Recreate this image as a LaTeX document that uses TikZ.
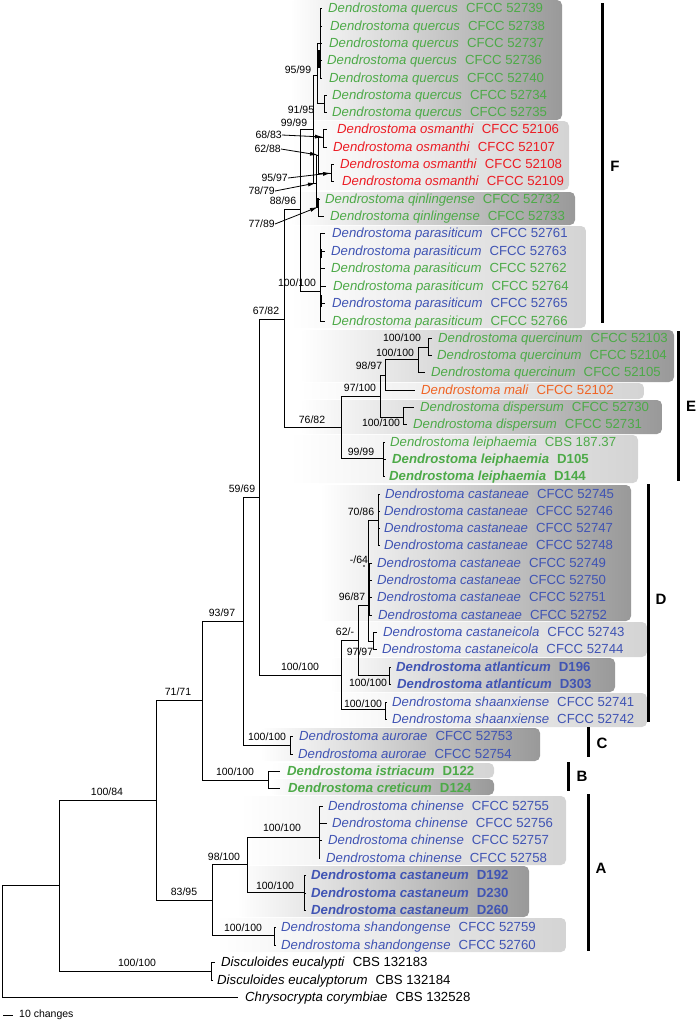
\documentclass[tikz,border=0pt]{standalone}
\usepackage{fontspec}
\setmainfont{Liberation Sans}
\usepackage{xcolor}
\usetikzlibrary{arrows.meta, positioning}

\definecolor{tgreen}{RGB}{77,170,72}
\definecolor{tblue}{RGB}{64,84,180}
\definecolor{tred}{RGB}{236,28,36}
\definecolor{torange}{RGB}{240,100,36}

\tikzset{
  branch/.style={line width=0.9pt},
  polytomy/.style={line width=2pt},
  leaf/.style={anchor=west, inner sep=0pt, text height=9.5pt, text depth=0pt, font=\fontsize{13.2}{15}\selectfont},
  bs/.style={inner sep=0pt, font=\fontsize{10.5}{12}\selectfont},
  darkbox/.style={rounded corners=5pt, left color=white, right color=black!40},
  lightbox/.style={rounded corners=5pt, left color=white, right color=black!17},
  cladebar/.style={line width=3pt},
  cladename/.style={inner sep=0pt, font=\fontsize{15}{17}\selectfont\bfseries},
  pointer/.style={line width=0.8pt, -{Latex[length=8pt,width=4pt]}},
}
\newcommand{\taxon}[2]{\textit{#1}\hspace{8pt}#2}
\newcommand{\taxonbf}[2]{\textbf{\textit{#1}}\hspace{8pt}\textbf{#2}}

\begin{document}
\begin{tikzpicture}[x=1pt, y=-1pt]
  \useasboundingbox (0,0) rectangle (697,1023);

  % shaded groups
  \shade[darkbox]  (290,0)   rectangle (562,120);
  \shade[lightbox] (290,121) rectangle (569,190);
  \shade[darkbox]  (290,192) rectangle (575,225);
  \shade[lightbox] (290,226) rectangle (586,328);
  \shade[darkbox]  (300,330) rectangle (674,382);
  \shade[lightbox] (300,383) rectangle (644,399);
  \shade[darkbox]  (300,400) rectangle (662,434);
  \shade[lightbox] (290,435) rectangle (638,483);
  \shade[darkbox]  (320,485) rectangle (631,621);
  \shade[lightbox] (330,622) rectangle (647,657);
  \shade[darkbox]  (330,658) rectangle (615,692);
  \shade[lightbox] (330,693) rectangle (647,727);
  \shade[darkbox]  (260,728) rectangle (540,761);
  \shade[lightbox] (270,763) rectangle (494,778);
  \shade[darkbox]  (270,779) rectangle (494,795);
  \shade[lightbox] (240,796) rectangle (566,865);
  \shade[darkbox]  (237,866) rectangle (529,917);
  \shade[lightbox] (215,918) rectangle (566,952);

  % internal nodes
  \coordinate (root) at (2,940);
  \coordinate (k0) at (59,885);
  \coordinate (k100) at (156,800);
  \coordinate (dis) at (211,971);
  \coordinate (k71) at (202,700);
  \coordinate (kA) at (212,900);
  \coordinate (kA98) at (247,864);
  \coordinate (chi) at (319,837);
  \coordinate (cas) at (304,892);
  \coordinate (sha) at (274,935);
  \coordinate (kB) at (268,780);
  \coordinate (k93) at (243,621);
  \coordinate (kC) at (290,745);
  \coordinate (k59) at (259,497);
  \coordinate (kD) at (341,675);
  \coordinate (shx) at (385,709);
  \coordinate (k62) at (358,640);
  \coordinate (atl) at (389,675);
  \coordinate (k96) at (368,605);
  \coordinate (k70) at (378,520);
  \coordinate (cci) at (373,641);
  \coordinate (k67) at (284,319);
  \coordinate (kE) at (341,427);
  \coordinate (lei) at (383,458);
  \coordinate (k97) at (380,396);
  \coordinate (dsp) at (403,417);
  \coordinate (k98) at (385,375);
  \coordinate (kq) at (418,359);
  \coordinate (qcn) at (428,347);
  \coordinate (k88) at (300,209);
  \coordinate (par) at (320,291);
  \coordinate (k99) at (313,129);
  \coordinate (qrc) at (317,75);
  \coordinate (qpl) at (320,43);
  \coordinate (qpr) at (324,103);
  \coordinate (k78) at (316,183);
  \coordinate (osm) at (318,155);
  \coordinate (o68) at (323,137);
  \coordinate (o95) at (331,173);
  \coordinate (qin) at (318,207);

  % tips
  \coordinate (q1) at (322,8);   \coordinate (q2) at (322,26);  \coordinate (q3) at (322,43);
  \coordinate (q4) at (322,60);  \coordinate (q5) at (322,78);  \coordinate (q6) at (327,95);
  \coordinate (q7) at (327,112);
  \coordinate (o1) at (327,129); \coordinate (o2) at (327,147);
  \coordinate (o3) at (334,164); \coordinate (o4) at (334,181);
  \coordinate (n1) at (320,199); \coordinate (n2) at (324,216);
  \coordinate (p1) at (325,233); \coordinate (p2) at (325,251); \coordinate (p3) at (325,268);
  \coordinate (p4) at (326,286); \coordinate (p5) at (325,303); \coordinate (p6) at (325,321);
  \coordinate (r1) at (432,338); \coordinate (r2) at (432,355); \coordinate (r3) at (425,372);
  \coordinate (mal) at (415,390);
  \coordinate (d1) at (414,407); \coordinate (d2) at (407,424);
  \coordinate (l1) at (385,442); \coordinate (l2) at (386,459); \coordinate (l3) at (385,476);
  \coordinate (c1) at (380,494); \coordinate (c2) at (380,511); \coordinate (c3) at (380,528);
  \coordinate (c4) at (380,545); \coordinate (c5) at (372,563); \coordinate (c6) at (372,580);
  \coordinate (c7) at (372,597); \coordinate (c8) at (372,615);
  \coordinate (e1) at (377,632); \coordinate (e2) at (377,649);
  \coordinate (a1) at (391,667); \coordinate (a2) at (391,684);
  \coordinate (s1) at (387,702); \coordinate (s2) at (387,719);
  \coordinate (u1) at (293,736); \coordinate (u2) at (293,754);
  \coordinate (ist) at (280,771); \coordinate (cre) at (280,788);
  \coordinate (h1) at (323,806); \coordinate (h2) at (327,823);
  \coordinate (h3) at (322,840); \coordinate (h4) at (320,858);
  \coordinate (m1) at (306,875); \coordinate (m2) at (306,893); \coordinate (m3) at (306,910);
  \coordinate (g1) at (276,927); \coordinate (g2) at (276,945);
  \coordinate (de1) at (215,962); \coordinate (de2) at (213,980);
  \coordinate (chr) at (238,997);

  % branches
  \foreach \p/\c in {root/k0, root/chr, k0/k100, k0/dis, dis/de1, dis/de2,
      k100/k71, k100/kA, kA/kA98, kA/sha, kA98/chi, kA98/cas,
      chi/h1, chi/h2, chi/h3, chi/h4, cas/m1, cas/m2, cas/m3, sha/g1, sha/g2,
      k71/k93, k71/kB, kB/ist, kB/cre, k93/k59, k93/kC, kC/u1, kC/u2,
      k59/k67, k59/kD, kD/k62, kD/shx, shx/s1, shx/s2,
      k62/k96, k62/atl, atl/a1, atl/a2,
      k96/k70, k96/c5, k96/c6, k96/c7, k96/c8, k96/cci,
      k70/c1, k70/c2, k70/c3, k70/c4, cci/e1, cci/e2,
      k67/k88, k67/kE, kE/k97, kE/lei, lei/l1, lei/l2, lei/l3,
      k97/k98, k97/dsp, dsp/d1, dsp/d2, k98/kq, k98/mal,
      kq/qcn, kq/r3, qcn/r1, qcn/r2,
      k88/k99, k88/par, par/p1, par/p2, par/p3, par/p4, par/p5, par/p6,
      k99/qrc, k99/k78, qrc/qpl, qrc/qpr,
      qpl/q1, qpl/q2, qpl/q3, qpl/q4, qpl/q5, qpr/q6, qpr/q7,
      k78/osm, k78/qin, osm/o68, osm/o95, o68/o1, o68/o2, o95/o3, o95/o4,
      qin/n1, qin/n2}
    \draw[branch] (\p) |- (\c);

  \draw[polytomy] (319,50) -- (319,68);
  \draw[polytomy] (318,198) -- (318,208);
  \draw[polytomy] (321,249) -- (321,258);
  \draw[polytomy] (321,295) -- (321,307);
  \draw[polytomy] (369,563) -- (369,615);
  \fill (364,566) circle (0.9pt);

  % leaves
  \node[leaf, text=tgreen] (tq1) at (328,8)   {\taxon{Dendrostoma quercus}{CFCC 52739}};
  \node[leaf, text=tgreen] (tq2) at (330,26)  {\taxon{Dendrostoma quercus}{CFCC 52738}};
  \node[leaf, text=tgreen] (tq3) at (329,43)  {\taxon{Dendrostoma quercus}{CFCC 52737}};
  \node[leaf, text=tgreen] (tq4) at (327,60)  {\taxon{Dendrostoma quercus}{CFCC 52736}};
  \node[leaf, text=tgreen] (tq5) at (329,78)  {\taxon{Dendrostoma quercus}{CFCC 52740}};
  \node[leaf, text=tgreen] (tq6) at (332,95)  {\taxon{Dendrostoma quercus}{CFCC 52734}};
  \node[leaf, text=tgreen] (tq7) at (332,112) {\taxon{Dendrostoma quercus}{CFCC 52735}};
  \node[leaf, text=tred] (to1) at (337,129) {\taxon{Dendrostoma osmanthi}{CFCC 52106}};
  \node[leaf, text=tred] (to2) at (333,147) {\taxon{Dendrostoma osmanthi}{CFCC 52107}};
  \node[leaf, text=tred] (to3) at (340,164) {\taxon{Dendrostoma osmanthi}{CFCC 52108}};
  \node[leaf, text=tred] (to4) at (342,181) {\taxon{Dendrostoma osmanthi}{CFCC 52109}};
  \node[leaf, text=tgreen] (tn1) at (325,199) {\taxon{Dendrostoma qinlingense}{CFCC 52732}};
  \node[leaf, text=tgreen] (tn2) at (330,216) {\taxon{Dendrostoma qinlingense}{CFCC 52733}};
  \node[leaf, text=tblue]  (tp1) at (332,233) {\taxon{Dendrostoma parasiticum}{CFCC 52761}};
  \node[leaf, text=tblue]  (tp2) at (331,251) {\taxon{Dendrostoma parasiticum}{CFCC 52763}};
  \node[leaf, text=tgreen] (tp3) at (331,268) {\taxon{Dendrostoma parasiticum}{CFCC 52762}};
  \node[leaf, text=tgreen] (tp4) at (333,286) {\taxon{Dendrostoma parasiticum}{CFCC 52764}};
  \node[leaf, text=tblue]  (tp5) at (332,303) {\taxon{Dendrostoma parasiticum}{CFCC 52765}};
  \node[leaf, text=tgreen] (tp6) at (332,321) {\taxon{Dendrostoma parasiticum}{CFCC 52766}};
  \node[leaf, text=tgreen] (tr1) at (438,338) {\taxon{Dendrostoma quercinum}{CFCC 52103}};
  \node[leaf, text=tgreen] (tr2) at (437,355) {\taxon{Dendrostoma quercinum}{CFCC 52104}};
  \node[leaf, text=tgreen] (tr3) at (431,372) {\taxon{Dendrostoma quercinum}{CFCC 52105}};
  \node[leaf, text=torange] (tmal) at (421,390) {\taxon{Dendrostoma mali}{CFCC 52102}};
  \node[leaf, text=tgreen] (td1) at (420,407) {\taxon{Dendrostoma dispersum}{CFCC 52730}};
  \node[leaf, text=tgreen] (td2) at (413,424) {\taxon{Dendrostoma dispersum}{CFCC 52731}};
  \node[leaf, text=tgreen] (tl1) at (390,442) {\taxon{Dendrostoma leiphaemia}{CBS 187.37}};
  \node[leaf, text=tgreen] (tl2) at (392,459) {\taxonbf{Dendrostoma leiphaemia}{D105}};
  \node[leaf, text=tgreen] (tl3) at (389,476) {\taxonbf{Dendrostoma leiphaemia}{D144}};
  \node[leaf, text=tblue] (tc1) at (385,494) {\taxon{Dendrostoma castaneae}{CFCC 52745}};
  \node[leaf, text=tblue] (tc2) at (384,511) {\taxon{Dendrostoma castaneae}{CFCC 52746}};
  \node[leaf, text=tblue] (tc3) at (384,528) {\taxon{Dendrostoma castaneae}{CFCC 52747}};
  \node[leaf, text=tblue] (tc4) at (384,545) {\taxon{Dendrostoma castaneae}{CFCC 52748}};
  \node[leaf, text=tblue] (tc5) at (377,563) {\taxon{Dendrostoma castaneae}{CFCC 52749}};
  \node[leaf, text=tblue] (tc6) at (377,580) {\taxon{Dendrostoma castaneae}{CFCC 52750}};
  \node[leaf, text=tblue] (tc7) at (377,597) {\taxon{Dendrostoma castaneae}{CFCC 52751}};
  \node[leaf, text=tblue] (tc8) at (378,615) {\taxon{Dendrostoma castaneae}{CFCC 52752}};
  \node[leaf, text=tblue] (te1) at (383,632) {\taxon{Dendrostoma castaneicola}{CFCC 52743}};
  \node[leaf, text=tblue] (te2) at (382,649) {\taxon{Dendrostoma castaneicola}{CFCC 52744}};
  \node[leaf, text=tblue] (ta1) at (396,667) {\taxonbf{Dendrostoma atlanticum}{D196}};
  \node[leaf, text=tblue] (ta2) at (397,684) {\taxonbf{Dendrostoma atlanticum}{D303}};
  \node[leaf, text=tblue] (ts1) at (392,702) {\taxon{Dendrostoma shaanxiense}{CFCC 52741}};
  \node[leaf, text=tblue] (ts2) at (392,719) {\taxon{Dendrostoma shaanxiense}{CFCC 52742}};
  \node[leaf, text=tblue] (tu1) at (299,736) {\taxon{Dendrostoma aurorae}{CFCC 52753}};
  \node[leaf, text=tblue] (tu2) at (298,754) {\taxon{Dendrostoma aurorae}{CFCC 52754}};
  \node[leaf, text=tgreen] (tist) at (287,771) {\taxonbf{Dendrostoma istriacum}{D122}};
  \node[leaf, text=tgreen] (tcre) at (288,788) {\taxonbf{Dendrostoma creticum}{D124}};
  \node[leaf, text=tblue] (th1) at (328,806) {\taxon{Dendrostoma chinense}{CFCC 52755}};
  \node[leaf, text=tblue] (th2) at (332,823) {\taxon{Dendrostoma chinense}{CFCC 52756}};
  \node[leaf, text=tblue] (th3) at (328,840) {\taxon{Dendrostoma chinense}{CFCC 52757}};
  \node[leaf, text=tblue] (th4) at (326,858) {\taxon{Dendrostoma chinense}{CFCC 52758}};
  \node[leaf, text=tblue] (tm1) at (311,875) {\taxonbf{Dendrostoma castaneum}{D192}};
  \node[leaf, text=tblue] (tm2) at (311,893) {\taxonbf{Dendrostoma castaneum}{D230}};
  \node[leaf, text=tblue] (tm3) at (311,910) {\taxonbf{Dendrostoma castaneum}{D260}};
  \node[leaf, text=tblue] (tg1) at (281,927) {\taxon{Dendrostoma shandongense}{CFCC 52759}};
  \node[leaf, text=tblue] (tg2) at (281,945) {\taxon{Dendrostoma shandongense}{CFCC 52760}};
  \node[leaf] (tde1) at (221,962) {\taxon{Disculoides eucalypti}{CBS 132183}};
  \node[leaf] (tde2) at (217,980) {\taxon{Disculoides eucalyptorum}{CBS 132184}};
  \node[leaf] (tchr) at (245,997) {\taxon{Chrysocrypta corymbiae}{CBS 132528}};

  % support values
  \node[bs] (b10084) at (107,792) {100/84};
  \node[bs] (bdis) at (137,963) {100/100};
  \node[bs] (b7171) at (178,692) {71/71};
  \node[bs] (b8395) at (184,892) {83/95};
  \node[bs] (b98100) at (224,857) {98/100};
  \node[bs] (bchi) at (282,828) {100/100};
  \node[bs] (bcas) at (275,886) {100/100};
  \node[bs] (bsha) at (243,928) {100/100};
  \node[bs] (bB) at (235,772) {100/100};
  \node[bs] (b9397) at (222,613) {93/97};
  \node[bs] (bC) at (267,737) {100/100};
  \node[bs] (b5969) at (242,489) {59/69};
  \node[bs] (bD) at (300,667) {100/100};
  \node[bs] (bshx) at (363,704) {100/100};
  \node[bs] (b62) at (345,632) {62/-};
  \node[bs] (batl) at (368,683) {100/100};
  \node[bs] (b9687) at (352,597) {96/87};
  \node[bs] (b64) at (359,560) {-/64};
  \node[bs] (b7086) at (361,512) {70/86};
  \node[bs] (b9797) at (360,652) {97/97};
  \node[bs] (b6782) at (266,311) {67/82};
  \node[bs] (b7682) at (312,420) {76/82};
  \node[bs] (blei) at (361,452) {99/99};
  \node[bs] (b97100) at (360,388) {97/100};
  \node[bs] (bdsp) at (381,423) {100/100};
  \node[bs] (b9897) at (369,366) {98/97};
  \node[bs] (bkq) at (395,353) {100/100};
  \node[bs] (bqcn) at (402,338) {100/100};
  \node[bs] (b8896) at (283,201) {88/96};
  \node[bs] (bpar) at (297,283) {100/100};
  \node[bs] (b9999) at (294,123) {99/99};
  \node[bs] (b9599) at (298,70) {95/99};
  \node[bs] (b9195) at (301,110) {91/95};
  \node[bs, anchor=east] (b6883) at (282,135) {68/83};
  \node[bs, anchor=east] (b6288) at (281,149) {62/88};
  \node[bs, anchor=east] (b9597) at (288,178) {95/97};
  \node[bs, anchor=east] (b7879) at (275,191) {78/79};
  \node[bs, anchor=east] (b7789) at (275,224) {77/89};

  \draw[pointer] (b6883.east) -- (o68);
  \draw[pointer] (b6288.east) -- (osm);
  \draw[pointer] (b9597.east) -- (o95);
  \draw[pointer] (b7879.east) -- (k78);
  \draw[pointer] (b7789.east) -- (qin);

  % clades
  \coordinate (Ft) at (602,3);   \coordinate (Fb) at (602,323);
  \coordinate (Et) at (678,331); \coordinate (Eb) at (678,481);
  \coordinate (Dt) at (648,484); \coordinate (Db) at (648,722);
  \coordinate (Ct) at (588,727); \coordinate (Cb) at (588,757);
  \coordinate (Bt) at (568,762); \coordinate (Bb) at (568,791);
  \coordinate (At) at (588,794); \coordinate (Ab) at (588,951);
  \foreach \k in {F,E,D,C,B,A}
    \draw[cladebar] (\k t) -- (\k b);
  \node[cladename] (F) at (615,166) {F};
  \node[cladename] (E) at (691,406) {E};
  \node[cladename] (D) at (661,599) {D};
  \node[cladename] (C) at (602,743) {C};
  \node[cladename] (B) at (582,776) {B};
  \node[cladename] (A) at (601,868) {A};

  % scale
  \coordinate (sl) at (3,1015);
  \coordinate (sr) at (13,1015);
  \draw[branch] (sl) -- (sr);
  \node[bs, anchor=west] (scale) at (19,1015) {10 changes};
\end{tikzpicture}
\end{document}
